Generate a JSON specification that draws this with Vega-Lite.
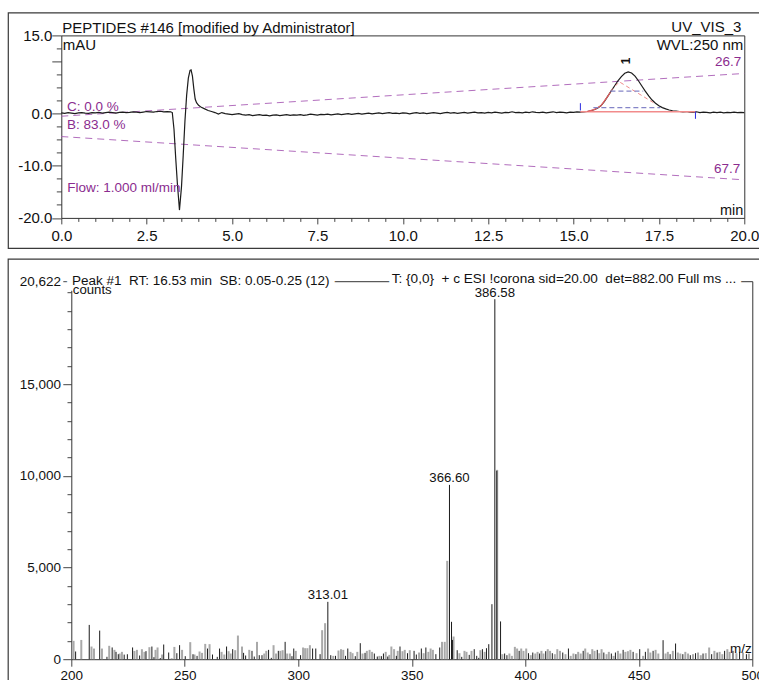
{
  "$schema": "https://vega.github.io/schema/vega-lite/v6.json",
  "background": "white",
  "padding": {"left": 7.3, "top": 11.4, "right": 0, "bottom": 0},
  "config": {
    "font": "Liberation Sans",
    "view": {"stroke": null},
    "axis": {"grid": false, "domainColor": "#333", "tickColor": "#444", "labelColor": "#111", "labelFont": "Liberation Sans"}
  },
  "spacing": 8.8,
  "datasets": {
    "trace": [
      {"t":0.0,"v":0.15},{"t":0.1,"v":0.05},{"t":0.2,"v":0.2},{"t":0.3,"v":0.1},{"t":0.4,"v":0.0},{"t":0.5,"v":0.15},{"t":0.6,"v":0.2},{"t":0.7,"v":0.1},{"t":0.8,"v":0.05},{"t":0.9,"v":0.2},
      {"t":1.0,"v":0.15},{"t":1.1,"v":0.25},{"t":1.2,"v":0.1},{"t":1.3,"v":0.2},{"t":1.4,"v":0.3},{"t":1.5,"v":0.2},{"t":1.6,"v":0.1},{"t":1.7,"v":0.25},{"t":1.8,"v":0.3},{"t":1.9,"v":0.2},
      {"t":2.0,"v":0.25},{"t":2.1,"v":0.35},{"t":2.2,"v":0.3},{"t":2.3,"v":0.2},{"t":2.4,"v":0.3},{"t":2.5,"v":0.4},{"t":2.6,"v":0.35},{"t":2.7,"v":0.3},{"t":2.8,"v":0.4},{"t":2.9,"v":0.45},
      {"t":3.0,"v":0.35},{"t":3.1,"v":0.4},{"t":3.2,"v":0.35},{"t":3.25,"v":0.2},{"t":3.3,"v":-3},{"t":3.35,"v":-8.5},{"t":3.4,"v":-13.5},{"t":3.46,"v":-18.5},{"t":3.52,"v":-14},{"t":3.57,"v":-8},
      {"t":3.62,"v":-1.5},{"t":3.67,"v":3.5},{"t":3.72,"v":6.8},{"t":3.77,"v":8.3},{"t":3.8,"v":8.4},{"t":3.84,"v":7.2},{"t":3.88,"v":4.8},{"t":3.92,"v":2.8},{"t":3.96,"v":2.1},{"t":4.02,"v":1.6},
      {"t":4.1,"v":1.2},{"t":4.2,"v":0.9},{"t":4.3,"v":0.6},{"t":4.4,"v":0.4},{"t":4.5,"v":0.2},{"t":4.6,"v":-0.1},{"t":4.7,"v":0.2},{"t":4.8,"v":0.0},{"t":4.9,"v":-0.1},
      {"t":5.0,"v":-0.2},{"t":5.1,"v":-0.1},{"t":5.2,"v":0.0},{"t":5.3,"v":-0.2},{"t":5.4,"v":-0.3},{"t":5.5,"v":-0.2},{"t":5.6,"v":-0.4},{"t":5.7,"v":-0.3},{"t":5.8,"v":-0.2},{"t":5.9,"v":-0.35},
      {"t":6.0,"v":-0.3},{"t":6.1,"v":-0.45},{"t":6.2,"v":-0.3},{"t":6.3,"v":-0.25},{"t":6.4,"v":-0.4},{"t":6.5,"v":-0.3},{"t":6.6,"v":-0.2},{"t":6.7,"v":-0.35},{"t":6.8,"v":-0.25},{"t":6.9,"v":-0.3},
      {"t":7.0,"v":-0.2},{"t":7.1,"v":-0.35},{"t":7.2,"v":-0.25},{"t":7.3,"v":-0.1},{"t":7.4,"v":-0.2},{"t":7.5,"v":-0.3},{"t":7.6,"v":-0.15},{"t":7.7,"v":-0.2},{"t":7.8,"v":-0.1},{"t":7.9,"v":-0.25},
      {"t":8.0,"v":-0.15},{"t":8.1,"v":-0.05},{"t":8.2,"v":-0.2},{"t":8.3,"v":-0.1},{"t":8.4,"v":0.0},{"t":8.5,"v":-0.15},{"t":8.6,"v":-0.05},{"t":8.7,"v":0.05},{"t":8.8,"v":-0.1},{"t":8.9,"v":0.0},
      {"t":9.0,"v":0.1},{"t":9.1,"v":-0.05},{"t":9.2,"v":0.05},{"t":9.3,"v":0.15},{"t":9.4,"v":0.0},{"t":9.5,"v":0.1},{"t":9.6,"v":0.2},{"t":9.7,"v":0.05},{"t":9.8,"v":0.1},{"t":9.9,"v":0.0},
      {"t":10.0,"v":0.15},{"t":10.1,"v":0.1},{"t":10.2,"v":-0.05},{"t":10.3,"v":0.1},{"t":10.4,"v":0.2},{"t":10.5,"v":0.05},{"t":10.6,"v":0.15},{"t":10.7,"v":0.0},{"t":10.8,"v":0.1},{"t":10.9,"v":0.2},
      {"t":11.0,"v":0.1},{"t":11.1,"v":0.0},{"t":11.2,"v":0.15},{"t":11.3,"v":0.25},{"t":11.4,"v":0.1},{"t":11.5,"v":0.2},{"t":11.6,"v":0.05},{"t":11.7,"v":0.15},{"t":11.8,"v":0.25},{"t":11.9,"v":0.1},
      {"t":12.0,"v":0.2},{"t":12.1,"v":0.3},{"t":12.2,"v":0.15},{"t":12.3,"v":0.2},{"t":12.4,"v":0.1},{"t":12.5,"v":0.25},{"t":12.6,"v":0.15},{"t":12.7,"v":0.3},{"t":12.8,"v":0.2},{"t":12.9,"v":0.1},
      {"t":13.0,"v":0.25},{"t":13.1,"v":0.2},{"t":13.2,"v":0.35},{"t":13.3,"v":0.2},{"t":13.4,"v":0.25},{"t":13.5,"v":0.15},{"t":13.6,"v":0.3},{"t":13.7,"v":0.2},{"t":13.8,"v":0.35},{"t":13.9,"v":0.25},
      {"t":14.0,"v":0.2},{"t":14.1,"v":0.3},{"t":14.2,"v":0.15},{"t":14.3,"v":0.25},{"t":14.4,"v":0.35},{"t":14.5,"v":0.2},{"t":14.6,"v":0.3},{"t":14.7,"v":0.25},{"t":14.8,"v":0.15},{"t":14.9,"v":0.3},
      {"t":15.0,"v":0.25},{"t":15.1,"v":0.35},{"t":15.2,"v":0.3},{"t":15.3,"v":0.35},{"t":15.4,"v":0.4},{"t":15.5,"v":0.55},{"t":15.6,"v":0.75},{"t":15.7,"v":1.05},{"t":15.8,"v":1.5},{"t":15.9,"v":2.3},
      {"t":16.0,"v":3.3},{"t":16.1,"v":4.3},{"t":16.2,"v":5.3},{"t":16.3,"v":6.3},{"t":16.4,"v":7.1},{"t":16.5,"v":7.75},{"t":16.6,"v":8.0},{"t":16.7,"v":7.8},{"t":16.8,"v":7.2},{"t":16.9,"v":6.3},
      {"t":17.0,"v":5.3},{"t":17.1,"v":4.3},{"t":17.2,"v":3.4},{"t":17.3,"v":2.6},{"t":17.4,"v":2.0},{"t":17.5,"v":1.5},{"t":17.6,"v":1.15},{"t":17.7,"v":0.9},{"t":17.8,"v":0.7},{"t":17.9,"v":0.55},
      {"t":18.0,"v":0.5},{"t":18.1,"v":0.4},{"t":18.2,"v":0.35},{"t":18.3,"v":0.4},{"t":18.4,"v":0.3},{"t":18.5,"v":0.25},{"t":18.6,"v":0.35},{"t":18.7,"v":0.2},{"t":18.8,"v":0.3},{"t":18.9,"v":0.25},
      {"t":19.0,"v":0.15},{"t":19.1,"v":0.3},{"t":19.2,"v":0.2},{"t":19.3,"v":0.3},{"t":19.4,"v":0.15},{"t":19.5,"v":0.25},{"t":19.6,"v":0.2},{"t":19.7,"v":0.3},{"t":19.8,"v":0.2},{"t":19.9,"v":0.25},{"t":20.0,"v":0.2}
    ],
    "gradient": [
      {"ch":"C","t":0,"v":-0.5},{"ch":"C","t":20,"v":7.7},
      {"ch":"B","t":0,"v":-4.4},{"ch":"B","t":20,"v":-12.7}
    ],
    "integration": [
      {"seg":"baseline","t":15.2,"v":0.35},{"seg":"baseline","t":18.57,"v":0.35},
      {"seg":"flank","t":15.4,"v":0.4},{"seg":"flank","t":15.6,"v":0.75},{"seg":"flank","t":15.8,"v":1.5},{"seg":"flank","t":16.0,"v":3.3},{"seg":"flank","t":16.08,"v":4.1},
      {"seg":"fit","t":16.08,"v":4.3},{"seg":"fit","t":16.34,"v":6.1},{"seg":"fit","t":17.39,"v":1.9},
      {"seg":"half","t":16.08,"v":4.3},{"seg":"half","t":17.04,"v":4.3},
      {"seg":"foot","t":15.58,"v":1.15},{"seg":"foot","t":17.54,"v":1.15}
    ],
    "delimiters": [
      {"t":15.2,"v":2.0,"v2":0.6},
      {"t":18.57,"v":0.4,"v2":-1.0}
    ],
    "spectrum": [
      {"mz":201.0,"i":1000,"s":"g"},{"mz":201.9,"i":420,"s":"k"},{"mz":204.4,"i":1050,"s":"g"},{"mz":207.9,"i":1870,"s":"k"},{"mz":208.9,"i":690,"s":"g"},
      {"mz":210.0,"i":580,"s":"g"},{"mz":212.5,"i":1560,"s":"k"},{"mz":213.5,"i":580,"s":"g"},{"mz":215.7,"i":130,"s":"k"},{"mz":216.7,"i":730,"s":"g"},
      {"mz":218.0,"i":640,"s":"k"},{"mz":219.0,"i":510,"s":"g"},{"mz":219.7,"i":400,"s":"k"},{"mz":220.7,"i":270,"s":"k"},{"mz":221.3,"i":310,"s":"g"},
      {"mz":222.3,"i":400,"s":"g"},{"mz":223.3,"i":250,"s":"k"},{"mz":224.7,"i":270,"s":"k"},{"mz":227.0,"i":640,"s":"k"},{"mz":227.8,"i":450,"s":"g"},
      {"mz":228.9,"i":510,"s":"g"},{"mz":230.1,"i":200,"s":"k"},{"mz":231.1,"i":545,"s":"g"},{"mz":232.2,"i":400,"s":"g"},{"mz":232.9,"i":440,"s":"k"},
      {"mz":234.4,"i":655,"s":"g"},{"mz":235.5,"i":690,"s":"k"},{"mz":236.4,"i":110,"s":"k"},{"mz":237.1,"i":510,"s":"g"},{"mz":238.0,"i":640,"s":"g"},
      {"mz":239.2,"i":60,"s":"k"},{"mz":240.0,"i":255,"s":"g"},{"mz":240.7,"i":800,"s":"k"},{"mz":242.9,"i":364,"s":"k"},{"mz":244.2,"i":55,"s":"g"},
      {"mz":245.4,"i":670,"s":"g"},{"mz":246.5,"i":327,"s":"k"},{"mz":247.7,"i":765,"s":"k"},{"mz":248.8,"i":510,"s":"g"},{"mz":250.2,"i":164,"s":"k"},
      {"mz":252.4,"i":930,"s":"g"},{"mz":253.6,"i":270,"s":"k"},{"mz":254.3,"i":255,"s":"g"},{"mz":255.4,"i":180,"s":"k"},{"mz":256.5,"i":420,"s":"g"},
      {"mz":257.6,"i":345,"s":"g"},{"mz":259.0,"i":835,"s":"g"},{"mz":260.0,"i":580,"s":"k"},{"mz":260.9,"i":820,"s":"g"},{"mz":262.2,"i":255,"s":"k"},
      {"mz":264.3,"i":127,"s":"k"},{"mz":265.3,"i":580,"s":"k"},{"mz":266.2,"i":400,"s":"g"},{"mz":267.4,"i":255,"s":"g"},{"mz":268.4,"i":690,"s":"k"},
      {"mz":269.3,"i":436,"s":"g"},{"mz":270.2,"i":310,"s":"g"},{"mz":271.1,"i":546,"s":"k"},{"mz":272.2,"i":491,"s":"g"},{"mz":273.4,"i":1290,"s":"g"},
      {"mz":275.2,"i":690,"s":"g"},{"mz":275.9,"i":345,"s":"k"},{"mz":276.8,"i":200,"s":"k"},{"mz":278.4,"i":510,"s":"g"},{"mz":279.6,"i":455,"s":"k"},
      {"mz":280.6,"i":145,"s":"k"},{"mz":281.8,"i":946,"s":"g"},{"mz":282.8,"i":218,"s":"k"},{"mz":284.0,"i":218,"s":"k"},{"mz":285.0,"i":309,"s":"g"},
      {"mz":285.9,"i":455,"s":"g"},{"mz":286.9,"i":509,"s":"k"},{"mz":288.1,"i":73,"s":"k"},{"mz":289.1,"i":764,"s":"g"},{"mz":290.2,"i":309,"s":"g"},
      {"mz":291.2,"i":455,"s":"k"},{"mz":292.1,"i":455,"s":"g"},{"mz":293.1,"i":491,"s":"g"},{"mz":294.2,"i":946,"s":"k"},{"mz":295.1,"i":309,"s":"g"},
      {"mz":296.3,"i":309,"s":"g"},{"mz":297.2,"i":164,"s":"k"},{"mz":298.0,"i":582,"s":"k"},{"mz":298.9,"i":455,"s":"g"},{"mz":301.0,"i":218,"s":"k"},
      {"mz":302.1,"i":637,"s":"g"},{"mz":303.0,"i":600,"s":"g"},{"mz":304.0,"i":600,"s":"g"},{"mz":305.1,"i":764,"s":"g"},{"mz":306.3,"i":582,"s":"k"},
      {"mz":307.7,"i":582,"s":"k"},{"mz":309.6,"i":273,"s":"k"},{"mz":310.5,"i":1582,"s":"g"},{"mz":311.8,"i":1964,"s":"g"},{"mz":313.01,"i":3128,"s":"k","label":true},
      {"mz":314.3,"i":218,"s":"k"},{"mz":315.4,"i":182,"s":"g"},{"mz":316.4,"i":182,"s":"k"},{"mz":317.7,"i":473,"s":"g"},{"mz":318.8,"i":546,"s":"g"},
      {"mz":319.8,"i":509,"s":"g"},{"mz":320.8,"i":182,"s":"k"},{"mz":321.8,"i":582,"s":"k"},{"mz":323.0,"i":400,"s":"g"},{"mz":323.9,"i":327,"s":"g"},
      {"mz":325.1,"i":164,"s":"k"},{"mz":326.0,"i":400,"s":"g"},{"mz":327.3,"i":873,"s":"k"},{"mz":328.3,"i":309,"s":"g"},{"mz":329.4,"i":345,"s":"k"},
      {"mz":330.2,"i":455,"s":"g"},{"mz":331.4,"i":509,"s":"g"},{"mz":332.5,"i":400,"s":"g"},{"mz":333.5,"i":309,"s":"k"},{"mz":334.8,"i":145,"s":"k"},
      {"mz":335.7,"i":182,"s":"g"},{"mz":336.6,"i":164,"s":"k"},{"mz":337.5,"i":309,"s":"k"},{"mz":338.5,"i":400,"s":"g"},{"mz":339.4,"i":145,"s":"k"},
      {"mz":340.1,"i":236,"s":"g"},{"mz":341.0,"i":691,"s":"g"},{"mz":342.2,"i":546,"s":"g"},{"mz":343.2,"i":182,"s":"k"},{"mz":343.8,"i":455,"s":"g"},
      {"mz":344.8,"i":691,"s":"k"},{"mz":345.9,"i":436,"s":"g"},{"mz":346.9,"i":509,"s":"g"},{"mz":348.1,"i":327,"s":"k"},{"mz":349.1,"i":491,"s":"g"},
      {"mz":351.0,"i":455,"s":"k"},{"mz":352.0,"i":255,"s":"k"},{"mz":353.2,"i":364,"s":"g"},{"mz":354.2,"i":582,"s":"k"},{"mz":355.2,"i":327,"s":"g"},
      {"mz":356.2,"i":637,"s":"k"},{"mz":357.3,"i":400,"s":"g"},{"mz":358.3,"i":582,"s":"g"},{"mz":359.3,"i":509,"s":"g"},{"mz":360.6,"i":273,"s":"k"},
      {"mz":362.3,"i":637,"s":"k"},{"mz":363.3,"i":946,"s":"g"},{"mz":364.5,"i":946,"s":"g"},{"mz":365.6,"i":5365,"s":"g"},{"mz":366.6,"i":9510,"s":"k","label":true},
      {"mz":367.5,"i":2040,"s":"k"},{"mz":367.9,"i":1050,"s":"k"},{"mz":368.4,"i":1237,"s":"g"},{"mz":370.0,"i":491,"s":"k"},{"mz":371.0,"i":327,"s":"g"},
      {"mz":372.0,"i":127,"s":"k"},{"mz":373.2,"i":455,"s":"g"},{"mz":374.1,"i":400,"s":"g"},{"mz":375.3,"i":236,"s":"k"},{"mz":376.3,"i":455,"s":"g"},
      {"mz":377.5,"i":546,"s":"k"},{"mz":378.6,"i":182,"s":"k"},{"mz":379.5,"i":73,"s":"k"},{"mz":380.2,"i":491,"s":"g"},{"mz":381.1,"i":546,"s":"k"},
      {"mz":382.1,"i":400,"s":"g"},{"mz":382.9,"i":600,"s":"k"},{"mz":383.9,"i":818,"s":"k"},{"mz":385.3,"i":3000,"s":"k"},{"mz":386.58,"i":19640,"s":"k","label":true},
      {"mz":387.45,"i":10280,"s":"k"},{"mz":387.62,"i":10330,"s":"g"},{"mz":389.1,"i":2060,"s":"k"},{"mz":389.9,"i":273,"s":"g"},{"mz":390.9,"i":309,"s":"k"},
      {"mz":391.9,"i":218,"s":"k"},{"mz":393.0,"i":309,"s":"g"},{"mz":394.1,"i":182,"s":"g"},{"mz":395.4,"i":673,"s":"g"},{"mz":396.4,"i":582,"s":"g"},
      {"mz":397.3,"i":455,"s":"k"},{"mz":398.2,"i":582,"s":"g"},{"mz":399.2,"i":455,"s":"g"},{"mz":400.4,"i":582,"s":"g"},{"mz":401.4,"i":327,"s":"k"},
      {"mz":402.4,"i":218,"s":"g"},{"mz":403.3,"i":364,"s":"k"},{"mz":404.4,"i":309,"s":"g"},{"mz":405.4,"i":400,"s":"g"},{"mz":406.3,"i":309,"s":"k"},
      {"mz":407.1,"i":455,"s":"g"},{"mz":408.0,"i":309,"s":"g"},{"mz":409.0,"i":436,"s":"k"},{"mz":409.9,"i":546,"s":"g"},{"mz":410.9,"i":455,"s":"g"},
      {"mz":411.9,"i":327,"s":"k"},{"mz":413.0,"i":273,"s":"g"},{"mz":414.1,"i":546,"s":"g"},{"mz":415.3,"i":455,"s":"g"},{"mz":416.5,"i":364,"s":"k"},
      {"mz":417.7,"i":273,"s":"g"},{"mz":419.0,"i":582,"s":"k"},{"mz":420.0,"i":182,"s":"g"},{"mz":421.2,"i":309,"s":"g"},{"mz":422.3,"i":273,"s":"k"},
      {"mz":423.3,"i":400,"s":"g"},{"mz":424.4,"i":309,"s":"g"},{"mz":425.5,"i":455,"s":"k"},{"mz":426.4,"i":582,"s":"g"},{"mz":427.5,"i":364,"s":"g"},
      {"mz":428.5,"i":273,"s":"k"},{"mz":429.5,"i":546,"s":"g"},{"mz":430.5,"i":455,"s":"g"},{"mz":431.7,"i":509,"s":"k"},{"mz":432.6,"i":327,"s":"g"},
      {"mz":433.6,"i":546,"s":"g"},{"mz":434.6,"i":364,"s":"k"},{"mz":435.8,"i":273,"s":"g"},{"mz":436.8,"i":400,"s":"g"},{"mz":437.9,"i":309,"s":"k"},
      {"mz":438.9,"i":182,"s":"g"},{"mz":439.7,"i":364,"s":"k"},{"mz":440.8,"i":455,"s":"g"},{"mz":441.9,"i":309,"s":"g"},{"mz":443.1,"i":509,"s":"k"},
      {"mz":444.1,"i":400,"s":"g"},{"mz":445.2,"i":436,"s":"g"},{"mz":446.3,"i":509,"s":"g"},{"mz":447.5,"i":400,"s":"k"},{"mz":449.0,"i":327,"s":"g"},
      {"mz":450.4,"i":546,"s":"k"},{"mz":451.9,"i":182,"s":"g"},{"mz":452.9,"i":400,"s":"k"},{"mz":454.1,"i":582,"s":"g"},{"mz":455.1,"i":364,"s":"g"},
      {"mz":456.3,"i":455,"s":"k"},{"mz":457.4,"i":509,"s":"g"},{"mz":458.6,"i":309,"s":"g"},{"mz":460.7,"i":1037,"s":"k"},{"mz":461.8,"i":309,"s":"g"},
      {"mz":462.8,"i":400,"s":"g"},{"mz":463.8,"i":273,"s":"k"},{"mz":465.0,"i":455,"s":"g"},{"mz":466.2,"i":855,"s":"k"},{"mz":467.2,"i":364,"s":"g"},
      {"mz":468.3,"i":309,"s":"g"},{"mz":469.4,"i":273,"s":"k"},{"mz":470.5,"i":400,"s":"g"},{"mz":471.7,"i":309,"s":"g"},{"mz":472.7,"i":218,"s":"k"},
      {"mz":473.9,"i":273,"s":"g"},{"mz":475.0,"i":327,"s":"k"},{"mz":476.1,"i":364,"s":"g"},{"mz":477.3,"i":218,"s":"g"},{"mz":478.3,"i":309,"s":"k"},
      {"mz":479.5,"i":327,"s":"g"},{"mz":481.0,"i":637,"s":"g"},{"mz":482.1,"i":273,"s":"k"},{"mz":483.3,"i":455,"s":"g"},{"mz":484.5,"i":364,"s":"k"},
      {"mz":485.6,"i":400,"s":"g"},{"mz":486.8,"i":273,"s":"g"},{"mz":487.8,"i":455,"s":"k"},{"mz":489.0,"i":546,"s":"g"},{"mz":490.0,"i":400,"s":"g"},
      {"mz":491.5,"i":455,"s":"k"},{"mz":493.0,"i":327,"s":"g"},{"mz":494.4,"i":400,"s":"k"},{"mz":495.9,"i":364,"s":"g"},{"mz":497.4,"i":273,"s":"k"},
      {"mz":498.5,"i":309,"s":"g"}
    ]
  },
  "vconcat": [
    {
      "width": 683,
      "height": 182.5,
      "layer": [
        {
          "data": {"values": [{"part": "frame"}]},
          "mark": {"type": "rect", "fill": null, "stroke": "#3a3a3a", "strokeWidth": 1.2, "clip": false},
          "encoding": {
            "x": {"datum": -1.552, "axis": null}, "x2": {"datum": 21.2},
            "y": {"datum": 19.31, "axis": null}, "y2": {"datum": -25.85}
          }
        },
        {
          "data": {"name": "gradient"},
          "mark": {"type": "line", "color": "#a95db5", "strokeWidth": 1, "strokeDash": [7, 5], "opacity": 0.9},
          "encoding": {
            "x": {"field": "t", "type": "quantitative", "title": null, "scale": {"domain": [0, 20], "nice": false, "zero": false}, "axis": {"orient": "top", "title": null, "labels": false, "ticks": false, "domain": true}},
            "y": {"field": "v", "type": "quantitative", "title": null, "scale": {"domain": [-20, 15], "nice": false, "zero": false}, "axis": {"orient": "right", "title": null, "labels": false, "ticks": false, "domain": true}},
            "detail": {"field": "ch"}
          }
        },
        {
          "data": {"name": "trace"},
          "mark": {"type": "line", "color": "#1c1c1c", "strokeWidth": 1.2},
          "encoding": {
            "x": {
              "field": "t", "type": "quantitative", "title": null,
              "scale": {"domain": [0, 20], "nice": false, "zero": false},
              "axis": {
                "orient": "bottom", "title": null,
                "values": [0,0.5,1,1.5,2,2.5,3,3.5,4,4.5,5,5.5,6,6.5,7,7.5,8,8.5,9,9.5,10,10.5,11,11.5,12,12.5,13,13.5,14,14.5,15,15.5,16,16.5,17,17.5,18,18.5,19,19.5,20],
                "labelExpr": "datum.value % 2.5 === 0 ? format(datum.value, '.1f') : ''",
                "tickSize": {"condition": {"test": "datum.value % 2.5 === 0", "value": 6}, "value": 3.5},
                "labelFontSize": 15, "labelPadding": 5, "labelFlush": false, "labelOverlap": false
              }
            },
            "y": {
              "field": "v", "type": "quantitative", "title": null,
              "scale": {"domain": [-20, 15], "nice": false, "zero": false},
              "axis": {
                "orient": "left", "title": null,
                "values": [-20,-17.5,-15,-12.5,-10,-7.5,-5,-2.5,0,2.5,5,7.5,10,12.5,15],
                "labelExpr": "indexof([15, 0, -10, -20], datum.value) >= 0 ? (datum.value < 0 ? '-' : '') + format(abs(datum.value), '.1f') : ''",
                "tickSize": {"condition": {"test": "datum.value % 10 === 0 || datum.value === 15", "value": 9.5}, "value": 5},
                "labelFontSize": 15, "labelPadding": 0, "labelOverlap": false, "labelFlush": false
              }
            }
          }
        },
        {
          "data": {"name": "integration"},
          "transform": [{"filter": "datum.seg === 'baseline'"}],
          "mark": {"type": "line", "color": "#f28b8b", "strokeWidth": 1.4},
          "encoding": {"x": {"field": "t", "type": "quantitative", "axis": null}, "y": {"field": "v", "type": "quantitative", "axis": null}}
        },
        {
          "data": {"name": "integration"},
          "transform": [{"filter": "datum.seg === 'flank'"}],
          "mark": {"type": "line", "color": "#e86060", "strokeWidth": 1.2},
          "encoding": {"x": {"field": "t", "type": "quantitative", "axis": null}, "y": {"field": "v", "type": "quantitative", "axis": null}}
        },
        {
          "data": {"name": "integration"},
          "transform": [{"filter": "datum.seg === 'fit'"}],
          "mark": {"type": "line", "color": "#f08a8a", "strokeWidth": 1, "strokeDash": [4, 3]},
          "encoding": {"x": {"field": "t", "type": "quantitative", "axis": null}, "y": {"field": "v", "type": "quantitative", "axis": null}}
        },
        {
          "data": {"name": "integration"},
          "transform": [{"filter": "datum.seg === 'half' || datum.seg === 'foot'"}],
          "mark": {"type": "line", "color": "#8585c8", "strokeWidth": 1.2, "strokeDash": [5, 3]},
          "encoding": {"x": {"field": "t", "type": "quantitative", "axis": null}, "y": {"field": "v", "type": "quantitative", "axis": null}, "detail": {"field": "seg"}}
        },
        {
          "data": {"name": "delimiters"},
          "mark": {"type": "rule", "color": "#2a2ae0", "strokeWidth": 1},
          "encoding": {"x": {"field": "t", "type": "quantitative", "axis": null}, "y": {"field": "v", "type": "quantitative", "axis": null}, "y2": {"field": "v2"}}
        },
        {
          "data": {"values": [{"note": "PEPTIDES #146 [modified by Administrator]"}]},
          "mark": {"type": "text", "align": "left", "baseline": "alphabetic", "dx": 1, "dy": -2.8, "fontSize": 15, "color": "#111"},
          "encoding": {"x": {"datum": 0, "axis": null}, "y": {"datum": 15, "axis": null}, "text": {"field": "note"}}
        },
        {
          "data": {"values": [{"note": "UV_VIS_3"}]},
          "mark": {"type": "text", "align": "right", "baseline": "alphabetic", "dx": -3, "dy": -3.5, "fontSize": 15, "color": "#111"},
          "encoding": {"x": {"datum": 20, "axis": null}, "y": {"datum": 15, "axis": null}, "text": {"field": "note"}}
        },
        {
          "data": {"values": [{"note": "mAU"}]},
          "mark": {"type": "text", "align": "left", "baseline": "alphabetic", "dx": 1.5, "dy": 14.2, "fontSize": 15, "color": "#111"},
          "encoding": {"x": {"datum": 0, "axis": null}, "y": {"datum": 15, "axis": null}, "text": {"field": "note"}}
        },
        {
          "data": {"values": [{"note": "WVL:250 nm"}]},
          "mark": {"type": "text", "align": "right", "baseline": "alphabetic", "dx": -1, "dy": 14.5, "fontSize": 15, "color": "#111"},
          "encoding": {"x": {"datum": 20, "axis": null}, "y": {"datum": 15, "axis": null}, "text": {"field": "note"}}
        },
        {
          "data": {"values": [{"note": "26.7"}]},
          "mark": {"type": "text", "align": "right", "baseline": "alphabetic", "dx": -3, "dy": 30.5, "fontSize": 13.5, "color": "#8b2c8f"},
          "encoding": {"x": {"datum": 20, "axis": null}, "y": {"datum": 15, "axis": null}, "text": {"field": "note"}}
        },
        {
          "data": {"values": [{"note": "C: 0.0 %"}]},
          "mark": {"type": "text", "align": "left", "baseline": "alphabetic", "dx": 5.7, "dy": -2.7, "fontSize": 13.5, "color": "#8b2c8f"},
          "encoding": {"x": {"datum": 0, "axis": null}, "y": {"datum": 0, "axis": null}, "text": {"field": "note"}}
        },
        {
          "data": {"values": [{"note": "B: 83.0 %"}]},
          "mark": {"type": "text", "align": "left", "baseline": "alphabetic", "dx": 5.7, "dy": 15.8, "fontSize": 13.5, "color": "#8b2c8f"},
          "encoding": {"x": {"datum": 0, "axis": null}, "y": {"datum": 0, "axis": null}, "text": {"field": "note"}}
        },
        {
          "data": {"values": [{"note": "Flow: 1.000 ml/min"}]},
          "mark": {"type": "text", "align": "left", "baseline": "alphabetic", "dx": 6, "dy": 0, "fontSize": 13.5, "color": "#8b2c8f"},
          "encoding": {"x": {"datum": 0, "axis": null}, "y": {"datum": -15, "axis": null}, "text": {"field": "note"}}
        },
        {
          "data": {"values": [{"note": "67.7"}]},
          "mark": {"type": "text", "align": "right", "baseline": "alphabetic", "dx": -4, "fontSize": 13.5, "color": "#8b2c8f"},
          "encoding": {"x": {"datum": 20, "axis": null}, "y": {"datum": -11.3, "axis": null}, "text": {"field": "note"}}
        },
        {
          "data": {"values": [{"note": "min"}]},
          "mark": {"type": "text", "align": "right", "baseline": "alphabetic", "dx": -1, "dy": -3, "fontSize": 14.5, "color": "#111"},
          "encoding": {"x": {"datum": 20, "axis": null}, "y": {"datum": -20, "axis": null}, "text": {"field": "note"}}
        },
        {
          "data": {"values": [{"note": "1"}]},
          "mark": {"type": "text", "align": "center", "baseline": "middle", "angle": 270, "fontSize": 12, "fontWeight": "bold", "color": "#111"},
          "encoding": {"x": {"datum": 16.54, "axis": null}, "y": {"datum": 10.1, "axis": null}, "text": {"field": "note"}}
        }
      ]
    },
    {
      "width": 691,
      "height": 378,
      "data": {"name": "spectrum"},
      "layer": [
        {
          "data": {"values": [{"part": "frame"}]},
          "mark": {"type": "rect", "fill": null, "stroke": "#3a3a3a", "strokeWidth": 1.2, "clip": false},
          "encoding": {
            "x": {"datum": 172.2, "axis": null}, "x2": {"datum": 512},
            "y": {"datum": 21822, "axis": null}, "y2": {"datum": -2182}
          }
        },
        {
          "transform": [{"filter": "datum.s === 'g'"}],
          "mark": {"type": "rule", "color": "#a9a9a9", "strokeWidth": 2},
          "encoding": {
            "x": {"field": "mz", "type": "quantitative", "title": null, "scale": {"domain": [200, 500], "nice": false, "zero": false, "range": [10, 691]}, "axis": {"orient": "top", "title": null, "labels": false, "ticks": false, "domain": true}},
            "y": {"field": "i", "type": "quantitative", "title": null, "scale": {"domain": [0, 20622], "nice": false, "zero": true}, "axis": {"orient": "right", "title": null, "labels": false, "ticks": false, "domain": true}},
            "y2": {"datum": 0}
          }
        },
        {
          "transform": [{"filter": "datum.s === 'k'"}],
          "mark": {"type": "rule", "color": "#1a1a1a", "strokeWidth": 1},
          "encoding": {
            "x": {
              "field": "mz", "type": "quantitative", "title": null,
              "scale": {"domain": [200, 500], "nice": false, "zero": false, "range": [10, 691]},
              "axis": {
                "orient": "bottom", "title": null,
                "values": [200, 250, 300, 350, 400, 450, 500], "format": "d",
                "tickSize": 7, "labelFontSize": 13.5, "labelPadding": 2, "labelFlush": false, "labelOverlap": false
              }
            },
            "y": {
              "field": "i", "type": "quantitative", "title": null,
              "scale": {"domain": [0, 20622], "nice": false, "zero": true},
              "axis": {
                "orient": "left", "title": null, "offset": -10,
                "values": [0,1000,2000,3000,4000,5000,6000,7000,8000,9000,10000,11000,12000,13000,14000,15000,16000,17000,18000,19000,20000,20622],
                "labelExpr": "(datum.value % 5000 === 0 && datum.value < 20000) || datum.value === 20622 ? format(datum.value, ',') : ''",
                "tickSize": {"condition": {"test": "(datum.value % 5000 === 0 && datum.value < 20000) || datum.value === 20622", "value": 8.5}, "value": 4.3},
                "labelFontSize": 13.5, "labelPadding": 2.4, "labelOverlap": false, "labelFlush": false
              }
            },
            "y2": {"datum": 0}
          }
        },
        {
          "data": {"values": [{"note": "Peak #1\u00a0 RT: 16.53 min\u00a0 SB: 0.05-0.25 (12)"}]},
          "mark": {"type": "text", "align": "left", "baseline": "alphabetic", "dx": 0.7, "dy": 3.4, "fontSize": 13.5, "color": "white", "stroke": "white", "strokeWidth": 12, "strokeJoin": "round"},
          "encoding": {"x": {"datum": 200, "axis": null}, "y": {"datum": 20622, "axis": null}, "text": {"field": "note"}}
        },
        {
          "data": {"values": [{"note": "Peak #1\u00a0 RT: 16.53 min\u00a0 SB: 0.05-0.25 (12)"}]},
          "mark": {"type": "text", "align": "left", "baseline": "alphabetic", "dx": 0.7, "dy": 3.4, "fontSize": 13.5, "color": "#111"},
          "encoding": {"x": {"datum": 200, "axis": null}, "y": {"datum": 20622, "axis": null}, "text": {"field": "note"}}
        },
        {
          "data": {"values": [{"note": "T: {0,0}\u00a0 + c ESI !corona sid=20.00\u00a0 det=882.00 Full ms ..."}]},
          "mark": {"type": "text", "align": "right", "baseline": "alphabetic", "dx": -16, "dy": 1.5, "fontSize": 13.6, "color": "white", "stroke": "white", "strokeWidth": 12, "strokeJoin": "round"},
          "encoding": {"x": {"datum": 500, "axis": null}, "y": {"datum": 20622, "axis": null}, "text": {"field": "note"}}
        },
        {
          "data": {"values": [{"note": "T: {0,0}\u00a0 + c ESI !corona sid=20.00\u00a0 det=882.00 Full ms ..."}]},
          "mark": {"type": "text", "align": "right", "baseline": "alphabetic", "dx": -16, "dy": 1.5, "fontSize": 13.6, "color": "#111"},
          "encoding": {"x": {"datum": 500, "axis": null}, "y": {"datum": 20622, "axis": null}, "text": {"field": "note"}}
        },
        {
          "transform": [{"filter": "datum.label === true"}],
          "mark": {"type": "text", "align": "center", "baseline": "alphabetic", "dy": -2.6, "fontSize": 13.2, "color": "#111"},
          "encoding": {
            "x": {"field": "mz", "type": "quantitative", "axis": null},
            "y": {"field": "i", "type": "quantitative", "axis": null},
            "text": {"field": "mz", "type": "quantitative", "format": ".2f"}
          }
        },
        {
          "data": {"values": [{"note": "counts"}]},
          "mark": {"type": "text", "align": "left", "baseline": "alphabetic", "dx": 1.5, "dy": 13.3, "fontSize": 13.2, "color": "#111"},
          "encoding": {"x": {"datum": 200, "axis": null}, "y": {"datum": 20622, "axis": null}, "text": {"field": "note"}}
        },
        {
          "data": {"values": [{"note": "m/z"}]},
          "mark": {"type": "text", "align": "right", "baseline": "alphabetic", "dx": -0.5, "dy": -5.7, "fontSize": 13.5, "color": "#111"},
          "encoding": {"x": {"datum": 500, "axis": null}, "y": {"datum": 0, "axis": null}, "text": {"field": "note"}}
        }
      ]
    }
  ]
}
